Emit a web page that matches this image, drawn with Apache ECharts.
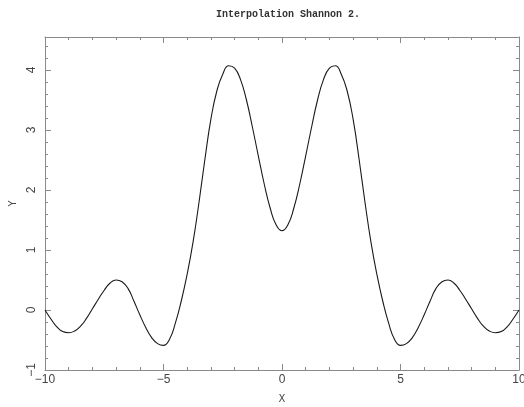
<!DOCTYPE html>
<html>
<head>
<meta charset="utf-8">
<script src="https://cdn.jsdelivr.net/npm/echarts@6/dist/echarts.min.js"></script>
<style>
  html, body { margin: 0; padding: 0; background: #fff; }
  #chart { width: 524px; height: 407px; }
</style>
</head>
<body>
<div id="chart"></div>
<script>
// Sample positions along X
const xValues = [
  -10, -9.75, -9.5, -9.25, -9, -8.75, -8.5, -8.25, -8, -7.75,
  -7.5, -7.25, -7, -6.75, -6.5, -6.25, -6, -5.75, -5.5, -5.25,
  -5, -4.75, -4.5, -4.25, -4, -3.75, -3.5, -3.25, -3, -2.75,
  -2.5, -2.25, -2, -1.75, -1.5, -1.25, -1, -0.75, -0.5, -0.25,
  0,
  0.25, 0.5, 0.75, 1, 1.25, 1.5, 1.75, 2, 2.25, 2.5,
  2.75, 3, 3.25, 3.5, 3.75, 4, 4.25, 4.5, 4.75, 5,
  5.25, 5.5, 5.75, 6, 6.25, 6.5, 6.75, 7, 7.25, 7.5,
  7.75, 8, 8.25, 8.5, 8.75, 9, 9.25, 9.5, 9.75, 10
];

// Interpolated signal values
const yValues = [
  0.00, -0.15, -0.28, -0.36, -0.38, -0.35, -0.27, -0.14, 0.02, 0.18,
  0.33, 0.45, 0.50, 0.47, 0.36, 0.15, -0.08, -0.29, -0.46, -0.56,
  -0.59, -0.49, -0.22, 0.15, 0.60, 1.14, 1.80, 2.52, 3.18, 3.65,
  3.93, 4.07, 4.03, 3.84, 3.50, 3.05, 2.57, 2.10, 1.70, 1.42,
  1.32,
  1.42, 1.70, 2.10, 2.57, 3.05, 3.50, 3.84, 4.03, 4.07, 3.93,
  3.65, 3.18, 2.52, 1.80, 1.14, 0.60, 0.15, -0.22, -0.49, -0.59,
  -0.56, -0.46, -0.29, -0.08, 0.15, 0.36, 0.47, 0.50, 0.45, 0.33,
  0.18, 0.02, -0.14, -0.27, -0.35, -0.38, -0.36, -0.28, -0.15, 0.00
];

const titleText = 'Interpolation Shannon 2.';
const xName = 'X';
const yName = 'Y';

const points = xValues.map((x, i) => [x, yValues[i]]);

const frameColor = '#8a8a8a';
const labelColor = '#444';
const fmt = v => String(v).replace('-', '\u2212');

function xAxisCfg(pos, showLabels) {
  return {
    type: 'value', position: pos, min: -10, max: 10, interval: 5,
    name: showLabels ? xName : '',
    nameLocation: 'middle', nameGap: 24,
    nameTextStyle: { color: labelColor, fontSize: 10, fontFamily: 'DejaVu Sans' },
    axisLine: { show: true, onZero: false, lineStyle: { color: frameColor, width: 1 } },
    axisTick: { show: true, inside: true, length: 6, lineStyle: { color: frameColor } },
    minorTick: { show: true, splitNumber: 5, length: 3, lineStyle: { color: frameColor } },
    axisLabel: {
      show: showLabels, color: labelColor, fontSize: 12, fontFamily: 'Liberation Sans',
      margin: 4, formatter: fmt
    },
    splitLine: { show: false }
  };
}

function yAxisCfg(pos, showLabels) {
  return {
    type: 'value', position: pos, min: -1, max: 4.55, interval: 1,
    name: showLabels ? yName : '',
    nameLocation: 'middle', nameGap: 21, nameRotate: 90,
    nameTextStyle: { color: labelColor, fontSize: 10, fontFamily: 'DejaVu Sans' },
    axisLine: { show: true, onZero: false, lineStyle: { color: frameColor, width: 1 } },
    axisTick: { show: true, inside: true, length: 6, lineStyle: { color: frameColor } },
    minorTick: { show: true, splitNumber: 5, length: 3, lineStyle: { color: frameColor } },
    axisLabel: {
      show: showLabels, color: labelColor, fontSize: 12, fontFamily: 'Liberation Sans',
      rotate: 90, margin: 7, showMaxLabel: false,
      formatter: v => (Number.isInteger(v) ? fmt(v) : '')
    },
    splitLine: { show: false }
  };
}

const chart = echarts.init(document.getElementById('chart'), null, { renderer: 'canvas' });
chart.setOption({
  animation: false,
  backgroundColor: '#fff',
  title: {
    text: titleText, left: 283, top: 4, textAlign: 'center',
    textStyle: { fontFamily: 'Liberation Mono', fontSize: 10, fontWeight: 'bold', color: '#333' }
  },
  grid: { left: 45, right: 5, top: 37, bottom: 37, containLabel: false, outerBoundsMode: 'none' },
  xAxis: [xAxisCfg('bottom', true), xAxisCfg('top', false)],
  yAxis: [yAxisCfg('left', true), yAxisCfg('right', false)],
  series: [{
    type: 'line',
    data: points,
    smooth: 0.5,
    showSymbol: false,
    lineStyle: { color: '#1a1a1a', width: 1.1 },
    clip: true
  }]
});
</script>
</body>
</html>
